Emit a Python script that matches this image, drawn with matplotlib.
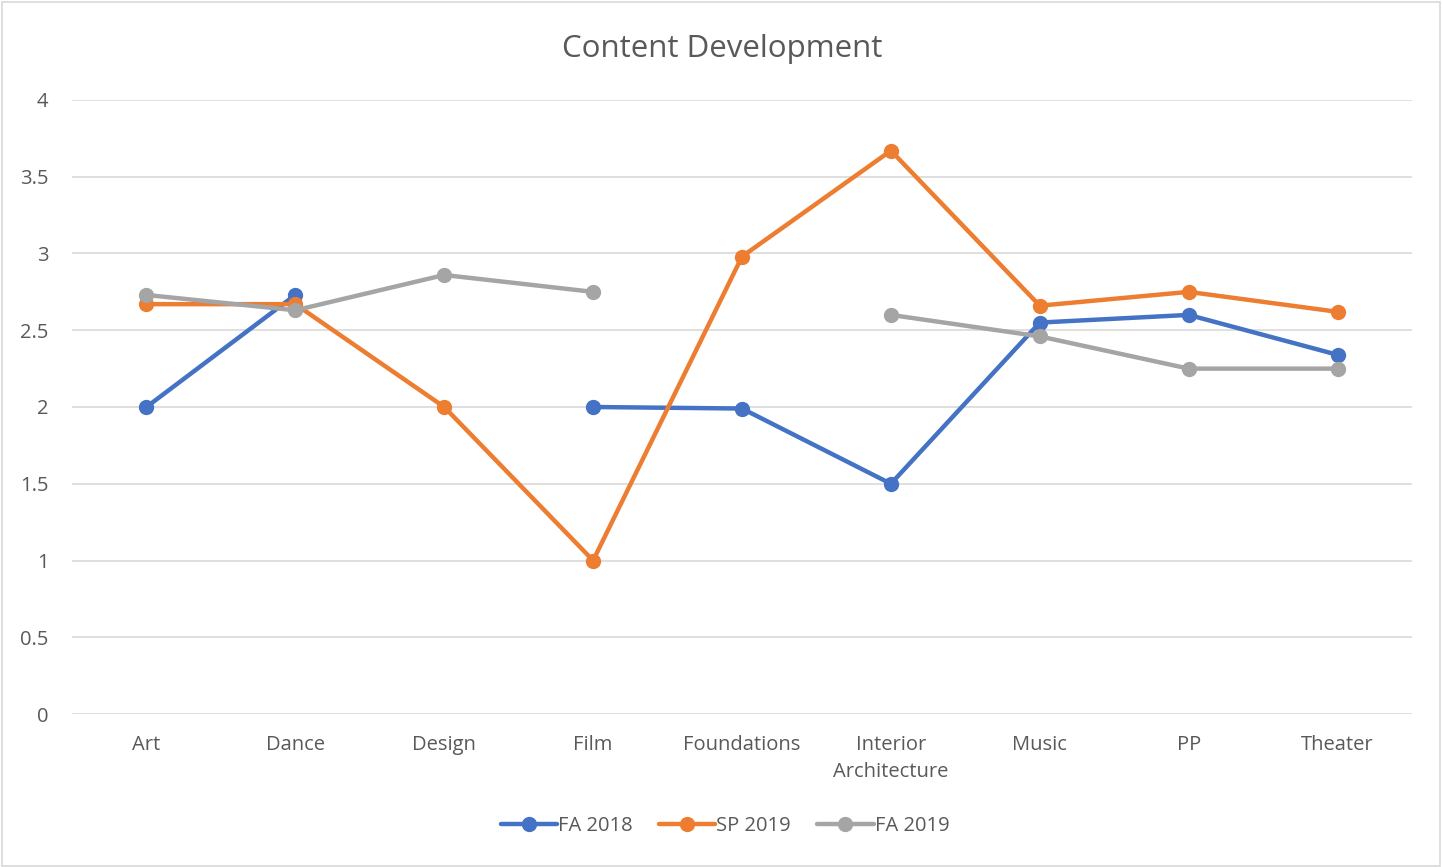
import numpy as np
import matplotlib
matplotlib.use("Agg")
import matplotlib.pyplot as plt
from matplotlib.patches import Rectangle

categories = ["Art", "Dance", "Design", "Film", "Foundations",
              "Interior\nArchitecture", "Music", "PP", "Theater"]
fa2018 = [2.0, 2.73, np.nan, 2.0, 1.99, 1.5, 2.55, 2.6, 2.34]
sp2019 = [2.67, 2.67, 2.0, 1.0, 2.98, 3.67, 2.66, 2.75, 2.62]
fa2019 = [2.73, 2.63, 2.86, 2.75, np.nan, 2.6, 2.46, 2.25, 2.25]
series_names = ["FA 2018", "SP 2019", "FA 2019"]
y_ticks = [0, 0.5, 1, 1.5, 2, 2.5, 3, 3.5, 4]
y_tick_labels = ["0", "0.5", "1", "1.5", "2", "2.5", "3", "3.5", "4"]

plt.rcParams['font.family'] = ['Open Sans', 'DejaVu Sans']
text_color = "#595959"
colors = ["#4472C4", "#ED7D31", "#A5A5A5"]

W, H = 1442, 867
fig = plt.figure(figsize=(W / 100, H / 100), dpi=100)
ax = fig.add_axes([72 / W, 1 - 714 / H, (1412 - 72) / W, (714 - 100) / H])

x = np.arange(len(categories))
for vals, name, c in zip([fa2018, sp2019, fa2019], series_names, colors):
    ax.plot(x, vals, color=c, lw=3.2, marker="o", markersize=10,
            label=name, solid_capstyle="round", zorder=3)

ax.set_xlim(-0.5, len(categories) - 0.5)
ax.set_ylim(0, 4)
ax.set_yticks(y_ticks)
ax.set_yticklabels(y_tick_labels)
ax.set_xticks(x)
ax.set_xticklabels(categories, linespacing=1.5)
ax.grid(axis="y", color="#D9D9D9", lw=1.2)
ax.set_axisbelow(True)
for s in ax.spines.values():
    s.set_visible(False)
ax.tick_params(axis="y", length=0, pad=17, labelsize=14.5, labelcolor=text_color)
ax.tick_params(axis="x", length=0, pad=15, labelsize=14.5, labelcolor=text_color)
for lbl in ax.get_xticklabels():
    lbl.set_verticalalignment("top")

fig.text(722 / W, 1 - 49 / H, "Content Development", ha="center", va="center",
         fontsize=22.5, color=text_color)

leg = fig.legend(loc="center", bbox_to_anchor=(725 / W, 1 - 826 / H), ncol=3,
                 frameon=False, fontsize=14.5, handlelength=2.8,
                 handletextpad=0.05, columnspacing=1.3, labelcolor=text_color)

fig.patches.append(Rectangle((1.5 / W, 1.5 / H), (W - 3.5) / W, (H - 3.5) / H,
                             transform=fig.transFigure, fill=False,
                             edgecolor="#D9D9D9", lw=1.2))

fig.savefig("out.png", dpi=100, facecolor="white")
